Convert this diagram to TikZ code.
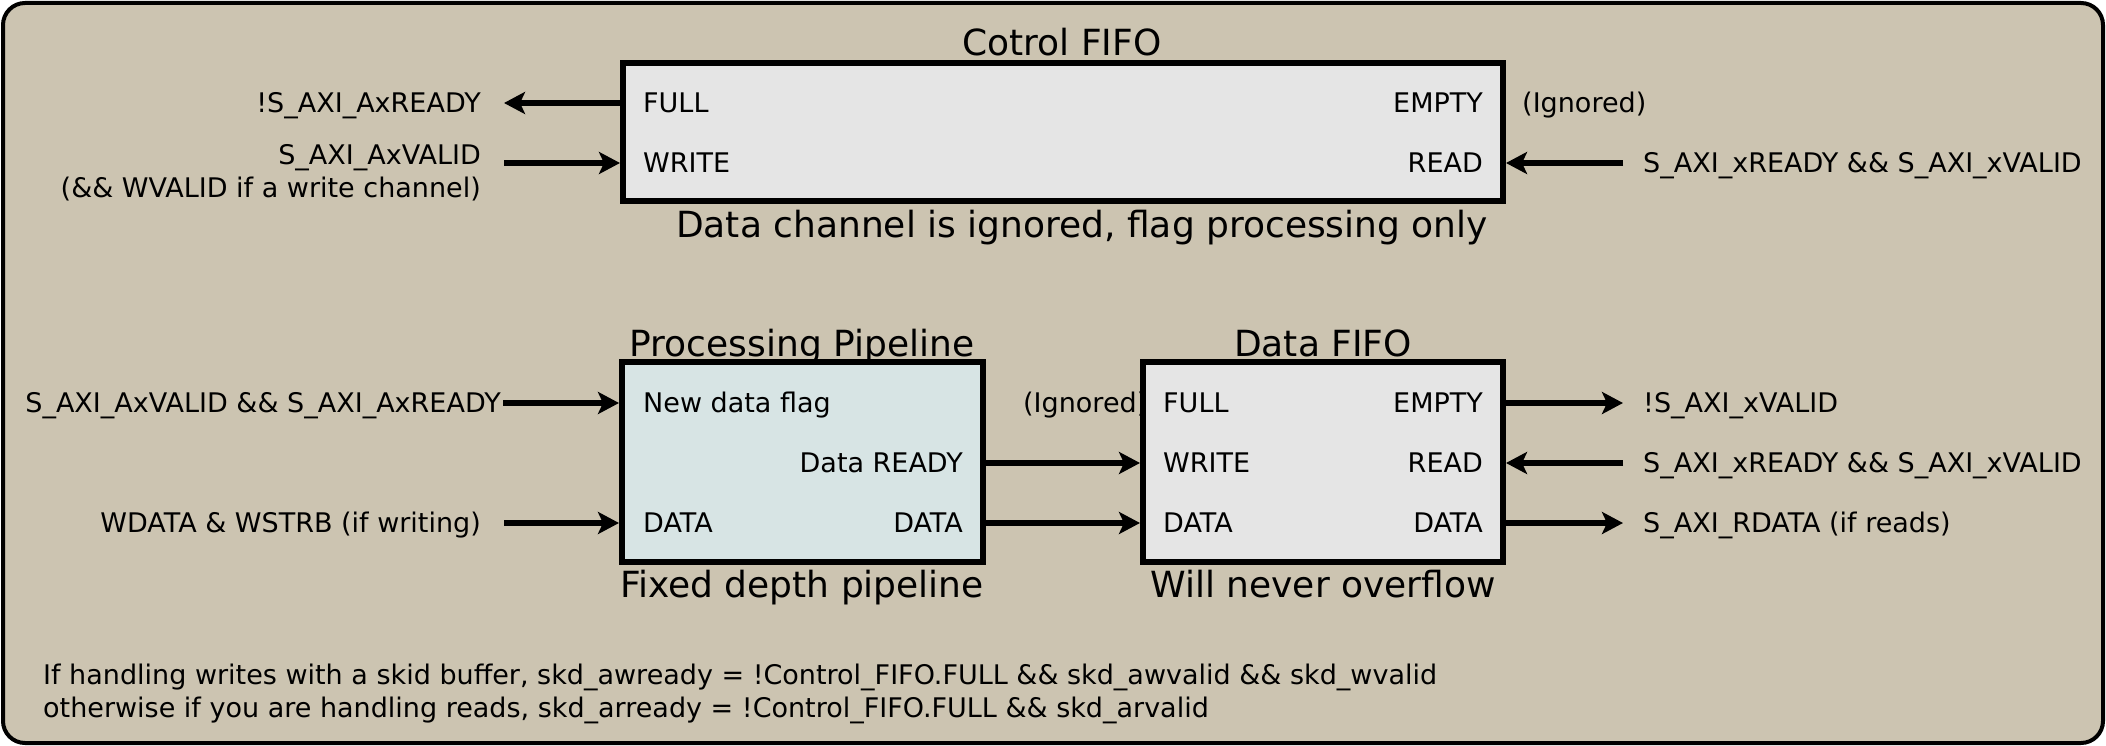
\documentclass[tikz,border=0pt]{standalone}
\usepackage{fontspec}
\setmainfont{DejaVu Sans}
\usetikzlibrary{arrows.meta}
\definecolor{bgtan}{RGB}{204,196,177}
\definecolor{fifofill}{RGB}{229,229,229}
\definecolor{pipefill}{RGB}{215,228,228}
\begin{document}
\begin{tikzpicture}[x=1pt,y=-1pt,
  lbl/.style={inner sep=0pt, font=\fontsize{27}{32}\selectfont, text height=19.7pt, text depth=0pt},
  ttl/.style={inner sep=0pt, font=\fontsize{36}{42}\selectfont, text height=26.2pt, text depth=0pt},
  box/.style={draw=black, line width=6pt, inner sep=0pt},
  arr/.style={line width=5.5pt, -{Stealth[length=21pt,width=22pt,inset=5pt]}}]
\useasboundingbox (0,0) rectangle (2106,746);
\draw[line width=4pt, rounded corners=22pt, fill=bgtan] (3,3) rectangle (2103,743);

% ---------- Control FIFO ----------
\node[box, fill=fifofill, minimum width=880pt, minimum height=138pt] (cf) at (1063,132) {};
\node[ttl] (cftitle) at (1062,42) {Cotrol FIFO};
\node[ttl] (cfnote) at (1082,224) {Data channel is ignored, flag processing only};
\node[lbl, anchor=west] (cffull) at (643,103) {FULL};
\node[lbl, anchor=west] (cfwrite) at (643,163) {WRITE};
\node[lbl, anchor=east] (cfempty) at (1483,103) {EMPTY};
\node[lbl, anchor=east] (cfread) at (1483,163) {READ};
\node[lbl, anchor=east] (sready) at (481,103) {!S\_AXI\_AxREADY};
\node[lbl, anchor=east] (svalid) at (481,155) {S\_AXI\_AxVALID};
\node[lbl, anchor=east] (svalid2) at (481,188) {(\&\& WVALID if a write channel)};
\node[lbl, anchor=west] (ign1) at (1522,103) {(Ignored)};
\node[lbl, anchor=west] (xrv1) at (1643,163) {S\_AXI\_xREADY \&\& S\_AXI\_xVALID};
\coordinate (c1) at (504,103);
\coordinate (c2) at (504,163);
\coordinate (c3) at (1623,163);
\draw[arr] (cf.west |- c1) -- (c1);
\draw[arr] (c2) -- (cf.west |- c2);
\draw[arr] (c3) -- (cf.east |- c3);

% ---------- Processing pipeline ----------
\node[lbl, anchor=west] (ign2) at (1023,403) {(Ignored)};
\node[box, fill=pipefill, minimum width=361pt, minimum height=200pt] (pp) at (802.5,462) {};
\node[ttl] (pptitle) at (802,343) {Processing Pipeline};
\node[ttl] (ppnote) at (802,584) {Fixed depth pipeline};
\node[lbl, anchor=west] (ppnew) at (643,403) {New data flag};
\node[lbl, anchor=east] (ppready) at (963,463) {Data READY};
\node[lbl, anchor=west] (ppdin) at (643,523) {DATA};
\node[lbl, anchor=east] (ppdout) at (963,523) {DATA};
\node[lbl, anchor=east] (avar) at (501,403) {S\_AXI\_AxVALID \&\& S\_AXI\_AxREADY};
\node[lbl, anchor=east] (wdata) at (481,523) {WDATA \& WSTRB (if writing)};
\coordinate (c4) at (503,403);
\coordinate (c5) at (504,523);
\draw[arr] (c4) -- (pp.west |- c4);
\draw[arr] (c5) -- (pp.west |- c5);

% ---------- Data FIFO ----------
\node[box, fill=fifofill, minimum width=360pt, minimum height=200pt] (df) at (1323,462) {};
\node[ttl] (dftitle) at (1323,343) {Data FIFO};
\node[ttl] (dfnote) at (1323,584) {Will never overflow};
\node[lbl, anchor=west] (dffull) at (1163,403) {FULL};
\node[lbl, anchor=west] (dfwrite) at (1163,463) {WRITE};
\node[lbl, anchor=west] (dfdin) at (1163,523) {DATA};
\node[lbl, anchor=east] (dfempty) at (1483,403) {EMPTY};
\node[lbl, anchor=east] (dfread) at (1483,463) {READ};
\node[lbl, anchor=east] (dfdout) at (1483,523) {DATA};
\node[lbl, anchor=west] (xvalid) at (1643,403) {!S\_AXI\_xVALID};
\node[lbl, anchor=west] (xrv2) at (1643,463) {S\_AXI\_xREADY \&\& S\_AXI\_xVALID};
\node[lbl, anchor=west] (rdata) at (1643,523) {S\_AXI\_RDATA (if reads)};
\coordinate (c6) at (1623,403);
\coordinate (c7) at (1623,463);
\coordinate (c8) at (1623,523);
\draw[arr] (pp.east |- ppready) -- (df.west |- ppready);
\draw[arr] (pp.east |- ppdout) -- (df.west |- ppdout);
\draw[arr] (df.east |- c6) -- (c6);
\draw[arr] (c7) -- (df.east |- c7);
\draw[arr] (df.east |- c8) -- (c8);

% ---------- Notes ----------
\node[lbl, anchor=west] (note1) at (43,675) {If handling writes with a skid buffer, skd\_awready = !Control\_FIFO.FULL \&\& skd\_awvalid \&\& skd\_wvalid};
\node[lbl, anchor=west] (note2) at (43,708) {otherwise if you are handling reads, skd\_arready = !Control\_FIFO.FULL \&\& skd\_arvalid};
\end{tikzpicture}
\end{document}
